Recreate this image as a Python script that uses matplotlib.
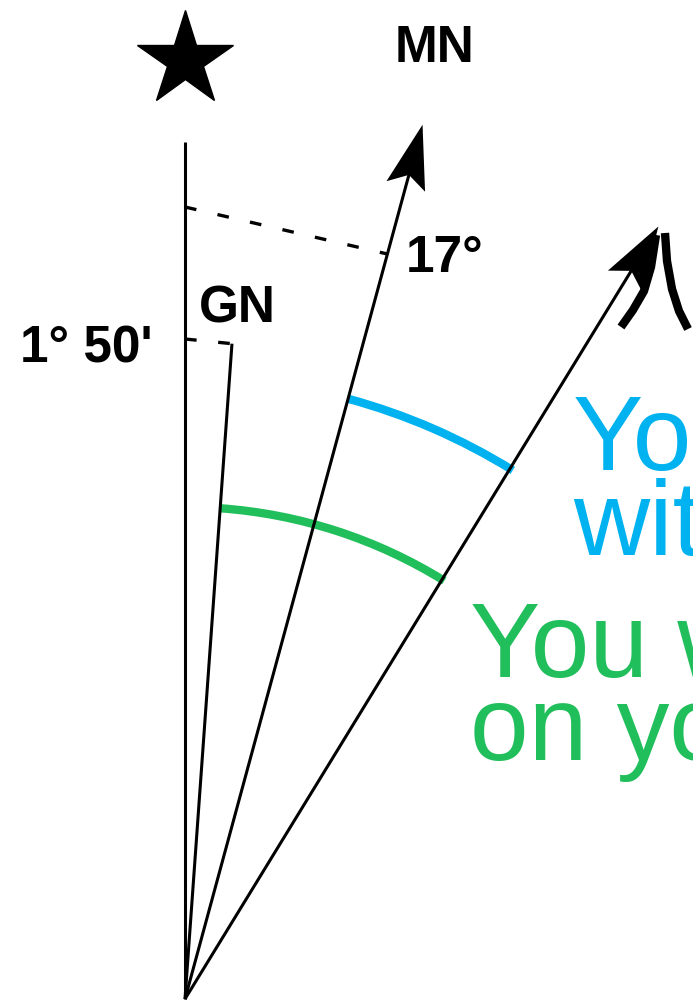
import numpy as np
import matplotlib.pyplot as plt
from matplotlib.patches import Polygon, Arc

plt.rcParams['font.family'] = ['Liberation Sans', 'DejaVu Sans']

# drawing angles (degrees from vertical, as drawn) and lengths in pixels
line_names = ['star', 'GN', 'MN', 'bearing']
line_angles = [0.0, 4.1, 15.2, 31.5]
line_lengths = [857, 657, 906, 906]
arrow_on = [False, False, True, True]

angle_labels = ["1\u00b0 50'", '17\u00b0']
name_labels = ['GN', 'MN']

blue_text = ['You', 'with']
green_text = ['You walk', 'on your']
blue = '#00b2ef'
green = '#21bf5b'

origin = np.array([185.0, 1000.0])


def point(angle, r):
    a = np.radians(angle)
    return origin + r * np.array([np.sin(a), -np.cos(a)])


def arrow_head(ax, angle, r, length=64, notch=52, half=20):
    a = np.radians(angle)
    d = np.array([np.sin(a), -np.cos(a)])
    n = np.array([-d[1], d[0]])
    tip = point(angle, r)
    base = tip - d * length
    pts = [tip, base + n * half, tip - d * notch, base - n * half]
    ax.add_patch(Polygon(pts, closed=True, color='black', lw=0))


fig = plt.figure(figsize=(6.93, 10.03), dpi=100)
ax = fig.add_axes([0, 0, 1, 1])
ax.set_xlim(0, 693)
ax.set_ylim(1003, 0)
ax.axis('off')

for ang, L, arr in zip(line_angles, line_lengths, arrow_on):
    end = point(ang, L - (45 if arr else 0))
    ax.plot([origin[0], end[0]], [origin[1], end[1]], color='black', lw=2.2,
            solid_capstyle='butt')
    if arr:
        arrow_head(ax, ang, L)

# star above the vertical line
ax.plot(origin[0], 61, marker='*', ms=72, color='black', mec='black')

# dashed angle markers
p0 = point(line_angles[0], 792)
p1 = point(line_angles[2], 772)
ax.plot([p0[0], p1[0]], [p0[1], p1[1]], color='black', lw=2.4,
        dashes=(3.5, 6.5))
g0 = point(line_angles[0], 660)
g1 = point(line_angles[1], 657)
ax.plot([g0[0], g1[0]], [g0[1], g1[1]], color='black', lw=2.4,
        dashes=(3.5, 6.5))

# coloured arcs centred on the origin (y axis is inverted)
ax.add_patch(Arc(origin, 2 * 622, 2 * 622, theta1=line_angles[2] - 90,
                 theta2=line_angles[3] - 90 + 0.3, color=blue, lw=6))
ax.add_patch(Arc(origin, 2 * 492, 2 * 492, theta1=line_angles[1] - 90,
                 theta2=line_angles[3] - 90 + 0.3, color=green, lw=6))

# partial symbol at the bearing arrow
ax.plot([621, 633, 644, 651, 656], [328, 311, 292, 268, 236], color='black',
        lw=6, solid_capstyle='butt')
ax.plot([665, 667, 672, 679, 688], [234, 262, 290, 312, 330], color='black',
        lw=6, solid_capstyle='butt')

# black labels
lab = dict(fontsize=37, fontweight='bold', color='black', va='baseline', ha='left')
ax.text(395, 62, name_labels[1], **lab)
ax.text(199, 322, name_labels[0], **lab)
ax.text(406, 272, angle_labels[1], **lab)
ax.text(20, 362, angle_labels[0], **lab)

# coloured captions (run off the right edge)
cap = dict(fontsize=76, va='baseline', ha='left', clip_on=False)
ax.text(573, 470, blue_text[0], color=blue, **cap)
ax.text(573, 555, blue_text[1], color=blue, **cap)
ax.text(470, 677, green_text[0], color=green, **cap)
ax.text(470, 760, green_text[1], color=green, **cap)

fig.savefig('out.png', dpi=100)
